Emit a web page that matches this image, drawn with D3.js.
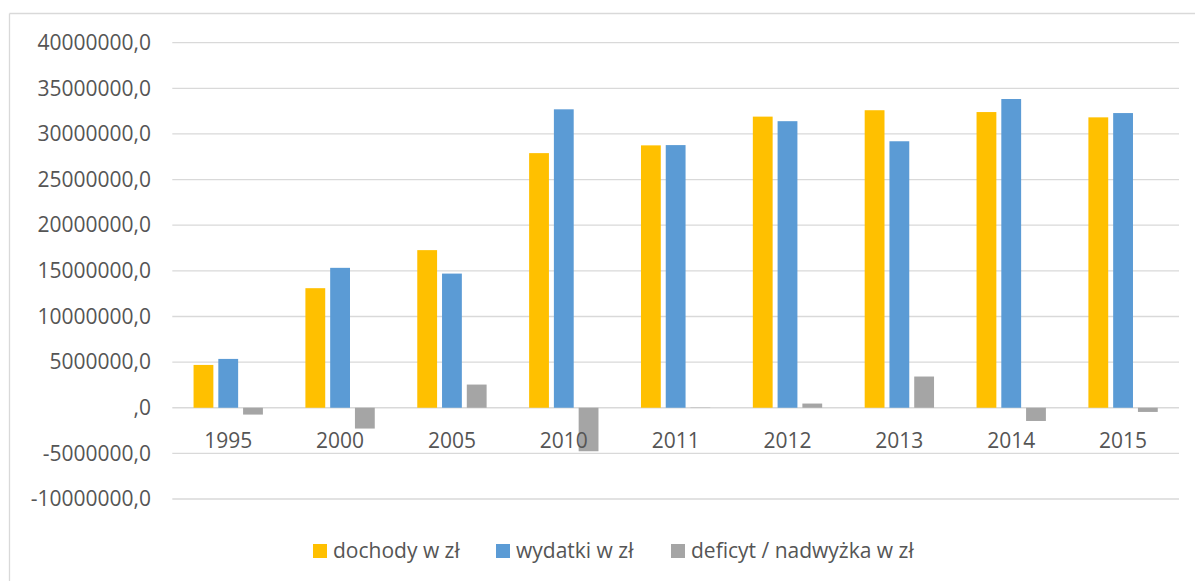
<!DOCTYPE html>
<html>
<head>
<meta charset="utf-8">
<script src="https://cdn.jsdelivr.net/npm/d3@7"></script>
<style>
  html, body { margin: 0; padding: 0; background: #fff; }
  svg { display: block; }
  text { font-family: "Open Sans", "Segoe UI", sans-serif; fill: #555555; }
</style>
</head>
<body>
<svg id="chart" width="1195" height="581"></svg>
<script>
const categories = ["1995", "2000", "2005", "2010", "2011", "2012", "2013", "2014", "2015"];
const seriesNames = ["dochody w zł", "wydatki w zł", "deficyt / nadwyżka w zł"];
const dochody = [4690000, 13100000, 17270000, 27900000, 28750000, 31900000, 32600000, 32400000, 31820000];
const wydatki = [5350000, 15330000, 14700000, 32700000, 28780000, 31400000, 29200000, 33830000, 32290000];
const deficyt = [-750000, -2280000, 2540000, -4770000, -30000, 460000, 3420000, -1450000, -460000];
const yTicks = [-10000000, -5000000, 0, 5000000, 10000000, 15000000, 20000000, 25000000, 30000000, 35000000, 40000000];
const colors = ["#FFC000", "#5B9BD5", "#A5A5A5"];

const series = [dochody, wydatki, deficyt];
const svg = d3.select("#chart");

// chart frame (only top and left visible in the reference)
svg.append("line").attr("x1", 9.5).attr("x2", 1195).attr("y1", 13.5).attr("y2", 13.5)
  .attr("stroke", "#d9d9d9").attr("stroke-width", 1.3);
svg.append("line").attr("x1", 9.5).attr("x2", 9.5).attr("y1", 13.5).attr("y2", 581)
  .attr("stroke", "#d9d9d9").attr("stroke-width", 1.3);

const plotLeft = 172.3, plotRight = 1179;
const y = d3.scaleLinear().domain([-10000000, 40000000]).range([499, 42.7]);
const x0 = d3.scaleBand().domain(categories).range([plotLeft, plotRight])
  .paddingInner(0.38).paddingOuter(0.19);
const x1 = d3.scaleBand().domain(d3.range(series.length)).range([0, x0.bandwidth()])
  .paddingInner(0.2);

const fmt = v => v === 0 ? ",0" : (v + ",0");
const FS = 21;

// gridlines
svg.append("g").selectAll("line").data(yTicks).join("line")
  .attr("x1", plotLeft).attr("x2", plotRight)
  .attr("y1", d => y(d)).attr("y2", d => y(d))
  .attr("stroke", "#d9d9d9").attr("stroke-width", 1.3);

// y-axis labels
const yAxis = d3.axisLeft(y).tickValues(yTicks).tickFormat(fmt).tickSize(0).tickPadding(0);
const gy = svg.append("g").attr("transform", "translate(151,0)").call(yAxis);
gy.select(".domain").remove();
gy.selectAll("text").attr("font-size", FS).attr("fill", "#555555")
  .style("font-family", "'Open Sans', sans-serif");

// bars
const groups = svg.append("g").selectAll("g").data(categories).join("g")
  .attr("transform", d => `translate(${x0(d)},0)`);
groups.selectAll("rect").data((d, i) => series.map((s, k) => ({ k, v: s[i] }))).join("rect")
  .attr("x", d => x1(d.k))
  .attr("width", x1.bandwidth())
  .attr("y", d => Math.min(y(d.v), y(0)))
  .attr("height", d => Math.abs(y(d.v) - y(0)))
  .attr("fill", d => colors[d.k]);

// category labels
const xAxis = d3.axisBottom(x0).tickSize(0).tickPadding(0);
const gx = svg.append("g").attr("transform", `translate(0,${y(0)})`).call(xAxis);
gx.select(".domain").remove();
gx.selectAll("text").attr("dy", null).attr("y", 40).attr("font-size", FS)
  .attr("fill", "#555555").style("font-family", "'Open Sans', sans-serif");

// legend
const legendX = [313, 496, 671];
const leg = svg.append("g").selectAll("g").data(seriesNames).join("g")
  .attr("transform", (d, i) => `translate(${legendX[i]},544)`);
leg.append("rect").attr("width", 14).attr("height", 14).attr("fill", (d, i) => colors[i]);
leg.append("text").attr("x", 20).attr("y", 7).attr("dy", "0.35em")
  .attr("font-size", FS).text(d => d);
</script>
</body>
</html>
